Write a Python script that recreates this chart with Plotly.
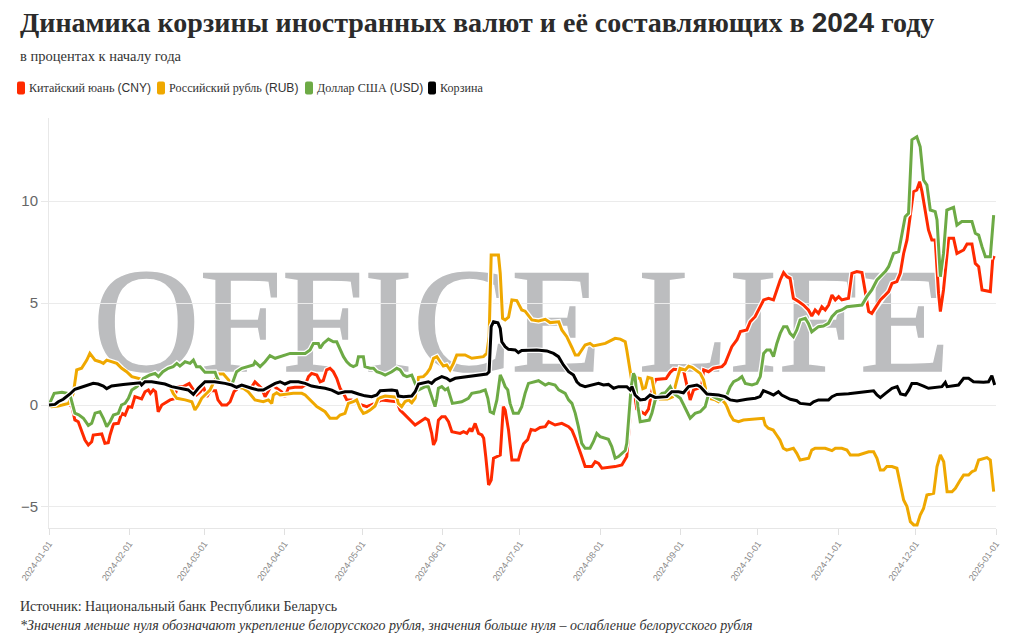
import base64
import pandas as pd
import plotly.graph_objects as go

# ---------------- data (days since 2024-01-01, % change vs start of year) -------------
start_date = "2024-01-01"

cny_days = [0, 2.3, 4.2, 6.8, 8.8, 10, 11.3, 12.6, 13.9, 15.2, 16.5, 17.1, 20.4, 21.6, 22.9, 23.6, 24.9, 26.8,
            28.1, 29.4, 30.7, 32, 33.2, 35.8, 37.1, 38.4, 39.2, 40.3, 41.2, 42.2, 43.6, 46.8, 48.4, 49.6, 51.9,
            54.2, 55.5, 57.1, 58.5, 59.7, 61, 62.4, 64.4, 65.3, 66.8, 68.7, 70, 71.5, 73, 78, 79.6, 80.9, 82.2,
            83.5, 84.8, 86.1, 88, 89.9, 91.2, 92.5, 95, 97.7, 99, 100.3, 101.5, 103.5, 104.8, 106, 107.3, 108.6,
            109.9, 111.2, 112.5, 113.8, 115.1, 117, 119, 120.9, 122.8, 125.5, 127.3, 128.6, 134.4, 135.7, 137,
            138.3, 140.2, 141.5, 143.4, 145.4, 146.6, 147.9, 148.6, 149.5, 150.5, 151.8, 153.1, 154.4, 155.7,
            158.9, 160.2, 161.5, 162.8, 163.4, 164.7, 166, 167.3, 168, 168.8, 169.9, 170.9, 171.8, 174.4, 175,
            175.6, 176.3, 177.6, 178.9, 181.4, 182.5, 183.4, 185, 186.3, 187.9, 189.8, 191.8, 193.1, 195.6,
            198.2, 200.8, 202.1, 203.4, 204.6, 205.9, 207.2, 209.8, 211.1, 212.4, 213.7, 218.8, 221.4, 222.7,
            223.3, 224.2, 225.3, 226.3, 227.2, 228.5, 230.4, 231.7, 233.2, 234.5, 238.5, 240.1, 241.4, 245.2,
            246.5, 247.8, 249.1, 251, 252.3, 253, 254.9, 256.8, 260.1, 261.3, 262.6, 263.9, 265.9, 267.2,
            269.7, 271, 272.9, 274.9, 276.2, 278.1, 280, 281.3, 282.6, 283.9, 285.2, 286.4, 287.7, 289.7,
            291.6, 293.5, 294.8, 296.1, 297.4, 298.7, 300, 301.3, 302.6, 303.9, 305.2, 306.4, 309, 310.3,
            312.2, 314.2, 315.5, 316.8, 318, 320, 321.3, 322.6, 324.5, 325.8, 327.7, 329, 330.3, 331.6,
            332.9, 334.1, 335.4, 336.5, 337.4, 338.6, 339.9, 341.2, 342.5, 343.8, 344.5, 345.7, 347, 347.7,
            349.6, 350.9, 353.5, 354.8, 356.7, 358, 359.3, 360.6, 363.8, 364.7, 365.3]
cny_values = [0, 0, 0.05, 0.08, -0.05, -0.73, -0.82, -1.23, -1.72, -1.96, -1.8, -1.47, -1.42, -1.88, -1.85,
              -1.47, -0.93, -0.9, -0.4, -0.49, -0.08, -0.11, 0.41, 0.3, 0.65, 0.74, 0.57, 0.74, 0.65, -0.33,
              0, 0.25, 0.3, 0.9, 0.9, 1.06, 0.82, 0.5, 0.65, 0.9, 0.4, 0.7, 0.7, 0.25, 0, 0, 0.16, 0.65,
              0.82, 0.82, 1.14, 0.98, 0.82, 0.41, 0.73, 0.98, 0.82, 0.65, 0.41, 0.82, 0.87, 0.87, 0.98, 1.39,
              1.55, 1.47, 1.14, 1.2, 1.72, 1.8, 1.63, 1.31, 0.82, 0.57, 0.25, 0.25, 0.08, 0, -0.08, 0.05,
              0.16, 0.25, 0.16, -0.25, -0.41, -0.57, -0.82, -0.98, -0.82, -0.65, -0.74, -1.39, -1.96, -1.72,
              -0.74, -0.57, -0.57, -0.82, -1.31, -1.39, -1.31, -1.39, -1.14, -1.31, -0.9, -1.39, -1.47, -1.63,
              -2.53, -3.92, -3.68, -2.61, -2.45, -1.14, -0.08, -0.25, -1.23, -2.7, -2.7, -2.21, -1.9, -1.7,
              -1.2, -1.25, -1.1, -1.06, -0.82, -0.98, -0.9, -1.06, -1.23, -1.63, -2.12, -2.53, -3.02, -3.02,
              -2.78, -2.86, -3.1, -3.02, -2.94, -2.7, -2.53, -1.2, 0.6, 0.5, -0.2, -0.3, -0.45, -0.2, 0.8,
              1.25, 1.3, 1.6, 1.75, 1.72, 1.06, 0.25, 0.74, 0.82, 0.98, 1.72, 1.63, 1.8, 1.88, 2.04, 2.45,
              2.86, 3.2, 3.6, 3.68, 4.08, 4.33, 4.82, 5.15, 5.23, 5.15, 5.64, 6.13, 6.49, 6.29, 6.21, 5.23,
              5.07, 4.9, 4.66, 4.36, 4.66, 4.49, 4.82, 4.66, 4.9, 5.39, 5.15, 5.31, 5.15, 5.23, 6.45, 6.54,
              6.49, 5.47, 4.58, 4.49, 4.9, 5.15, 5.31, 5.56, 5.96, 6.05, 6.45, 7.43, 8.09, 9.23, 10.46,
              10.54, 10.95, 10.46, 9.56, 8.58, 8.09, 8.09, 5.47, 4.58, 5.64, 7.1, 8.17, 8.17, 7.43, 7.6,
              7.89, 7.89, 6.94, 6.78, 5.64, 5.56, 7.1, 7.3]

rub_days = [0, 1, 3.6, 7.5, 9.4, 10.7, 12.6, 14.6, 15.8, 17.8, 19.7, 21, 22.3, 24.2, 26.2, 28.1, 30, 32,
            34.5, 37.1, 39.7, 42.3, 44.8, 46.8, 48, 49.4, 52.6, 55.2, 56.4, 57.7, 59, 61, 62.2, 64, 65.5,
            67.4, 68.7, 70, 71.9, 75.1, 77, 79.6, 82.8, 84.8, 86.1, 86.7, 88, 89.3, 94.4, 97.7, 99, 100.9,
            103.5, 106.7, 108.6, 111.2, 112.5, 114.4, 115.7, 117.6, 118.9, 120.2, 121.5, 122.8, 124.1, 126,
            127.3, 129.9, 134.4, 135, 136.3, 137.6, 138.9, 140.2, 141.5, 142.8, 144.7, 146, 147.3, 148.6,
            149.9, 151.2, 152.4, 153.7, 155, 156.3, 157.6, 160.8, 163.4, 167.9, 169.2, 170.1, 170.9, 173.7,
            174.4, 175.3, 176.3, 177.6, 178.9, 180.8, 181.7, 182.7, 184, 185.3, 186.6, 189.2, 191.8, 193.7,
            197, 198.2, 200.1, 202.1, 203.4, 204.6, 205.9, 207.2, 209.1, 210.4, 215, 216.9, 218.8, 220.8,
            222.7, 223.3, 224.2, 225.2, 226.5, 228.5, 229.5, 230.5, 231.5, 233, 234.3, 236, 239, 241, 242.4,
            243.9, 245.9, 247.2, 248.5, 250.4, 251.7, 253, 253.6, 254.3, 254.9, 257.5, 258.8, 260.1, 261.3,
            262, 263.3, 264.5, 266.5, 268.4, 276.1, 276.8, 278, 279.9, 281.2, 282.5, 283.8, 285.1, 287.7,
            289, 290.3, 293.6, 294.8, 296.1, 300, 302.6, 303.9, 306.4, 308.4, 309.7, 312.9, 316.8, 318.7,
            320, 321.3, 322.6, 323.8, 325.8, 327.7, 329, 330.3, 331.6, 332.9, 334.2, 335.5, 336.7, 338,
            339.3, 341.9, 343.2, 344.5, 345.8, 347.1, 349, 350.3, 352.2, 353.5, 355.4, 356.7, 358, 359.3,
            362.5, 363.8, 365.1]
rub_values = [0, -0.08, -0.05, 0.08, 0.57, 1.72, 1.8, 2.2, 2.53, 2.2, 2.12, 2.04, 2.2, 2.12, 2.04, 1.8, 1.63,
              1.39, 1.31, 1.23, 1.14, 1.06, 0.98, 0.9, 0.57, 0.33, 0.25, 0.16, -0.24, 0, 0.33, 0.57, 0.73,
              1.2, 1.52, 1.52, 1.31, 1.14, 0.9, 0.82, 0.65, 0.25, 0.16, 0.25, 0.08, 0.49, 0.6, 0.49, 0.57,
              0.57, 0.49, 0.25, -0.08, -0.33, -0.65, -0.65, -0.49, -0.41, 0.08, 0.16, 0.25, -0.16, -0.41,
              -0.35, -0.25, -0.05, 0.33, 0.44, 0.38, 0.08, -0.08, 0.16, 0.25, 0.11, 0.33, 1.36, 1.39, 1.55,
              1.8, 2.29, 2.37, 2.12, 1.91, 1.96, 1.72, 2.04, 2.45, 2.45, 2.29, 2.37, 2.53, 3.35, 7.35, 7.35,
              6.45, 4.25, 4.17, 4.3, 5.15, 5.12, 4.9, 4.66, 4.6, 4.41, 4.17, 4.12, 4.2, 4.04, 4.08, 3.68,
              3.35, 2.82, 2.45, 2.45, 2.7, 2.94, 3.02, 2.9, 3.02, 3.14, 3.27, 3.23, 3.1, 2.7, 1.88, 1.2, 1.35,
              1.3, 0.8, 0.85, 1.35, 1.3, 0.4, 0.3, 0.3, 0.4, 1.1, 1.8, 1.72, 1.9, 1.85, 1.68, 1.55, 1.23,
              0.9, 0.49, 0.33, 0.25, 0.16, 0.25, 0.08, -0.08, -0.49, -0.74, -0.82, -0.74, -0.65, -0.98,
              -1.14, -1.23, -1.47, -1.72, -2.12, -2.21, -2.12, -2.37, -2.7, -2.61, -2.21, -2.12, -2.12,
              -2.24, -2.12, -2.12, -2.21, -2.45, -2.45, -2.29, -2.29, -2.61, -3.19, -3.19, -3.02, -3.02,
              -3.1, -3.92, -4.66, -4.98, -5.72, -5.88, -5.88, -5.39, -5.07, -4.41, -4.33, -3.02, -2.45,
              -2.78, -4.25, -4.25, -4.08, -3.68, -3.43, -3.43, -3.27, -3.19, -2.7, -2.58, -2.7, -4.25]

usd_days = [0, 2, 5, 8, 10, 11.5, 13.3, 15.2, 16.5, 17.8, 19.7, 21, 22.3, 23.6, 24.9, 26.8, 28, 29.4, 30.7,
            32, 34, 35.2, 36.5, 39, 41, 42.3, 44, 46.1, 48, 49.4, 50.6, 52.6, 54.5, 55.8, 57, 58.4, 60.3,
            64.2, 64.8, 66.1, 70.6, 72.5, 74.5, 79, 79.6, 81.6, 83.5, 85.4, 87.4, 89.3, 93.2, 99, 100.9,
            102.2, 104.1, 104.8, 106, 108, 109.9, 111.2, 112.5, 113.8, 115.1, 116.4, 117.6, 118.9, 119.6,
            121.5, 122.1, 124.1, 125.4, 126.7, 128.6, 129.9, 132.5, 134.4, 135.7, 137, 138.3, 140.2, 141.5,
            142.8, 145.4, 146.6, 147.9, 149.2, 149.9, 150.5, 151.8, 153.1, 154.1, 155, 155.9, 159.5, 162.1,
            163.4, 166.6, 168.6, 169.6, 170.5, 171.8, 173.1, 173.7, 174.4, 175.3, 176.3, 177.3, 178.2,
            179.5, 181.4, 182.7, 184, 185.3, 187.2, 189.2, 191.8, 193.1, 195.6, 197, 199.5, 200.8, 202.1,
            203.4, 204.6, 205.9, 207.2, 209.1, 210.4, 211.7, 213, 216.2, 217.5, 218.8, 220.1, 222.7, 223.3,
            224.2, 225, 225.9, 226.5, 227.6, 228.5, 232, 233, 234.3, 236.9, 238.2, 240.1, 241.4, 244,
            245.3, 246.6, 247.8, 249.7, 251.7, 253.6, 255, 256.8, 259.4, 262, 263.3, 264.6, 266.5, 267.8,
            269.1, 271.7, 273.6, 274.9, 276.2, 277.4, 278.7, 280, 281.3, 282.6, 283.9, 285.2, 286.4, 287.7,
            289, 290.3, 292.3, 293.5, 294.8, 297.4, 299.3, 301.2, 302.6, 304.5, 306.4, 308.4, 314.2, 316.1,
            318, 320, 321.2, 323.2, 324.5, 326.4, 328.4, 329.6, 330.9, 332.2, 333.5, 335.4, 336.7, 338,
            339.3, 340.6, 342.5, 343.2, 344.5, 345.7, 347, 349.6, 350.9, 352.8, 356.7, 358, 359.3, 360.6,
            361.9, 363.8, 365.1]
usd_values = [0, 0.57, 0.62, 0.55, -0.4, -0.48, -0.65, -1.0, -0.9, -0.4, -0.33, -0.65, -1.06, -0.82, -0.49,
              -0.41, 0, 0.08, 0.33, 0.74, 0.9, 1.06, 1.3, 1.47, 1.55, 1.39, 1.63, 1.8, 1.88, 2.04, 1.91,
              2.12, 2.04, 2.2, 1.88, 1.88, 1.6, 1.6, 1.39, 1.06, 0.98, 1.63, 1.8, 1.96, 2.12, 1.88, 2.12,
              2.42, 2.29, 2.37, 2.53, 2.53, 2.7, 3.02, 3.02, 2.78, 3.02, 3.23, 3.1, 3.1, 2.7, 2.37, 2.12,
              1.96, 1.88, 1.96, 2.37, 2.37, 1.88, 1.8, 1.8, 1.63, 1.55, 1.47, 1.63, 1.8, 1.72, 1.47, 1.39,
              1.47, 1.06, 0.74, 0.9, 0.9, 0.41, -0.08, 0.33, 0.82, 0.9, 0.74, 0.82, 0.41, 0.08, 0.16, 0.33,
              0.57, 0.65, 0.74, 0.33, -0.33, -0.41, 0.25, 0.9, 1.47, 1.23, 0.9, 0.74, 0.08, -0.41, -0.41,
              -0.08, 0.57, 1.06, 1.14, 1.19, 0.98, 1.06, 0.98, 0.74, 0.57, 0.25, 0.08, -0.41, -1.06, -1.88,
              -2.12, -2.12, -1.8, -1.39, -1.55, -1.68, -2.04, -2.61, -2.53, -2.23, -1.88, -0.41, 0.9, 1.55,
              1.39, -0.08, -0.82, -0.74, -0.41, 0.25, 0.57, 0.6, 0.9, 0.57, 0.33, 0, -0.3, -0.65, -0.41,
              -0.33, -0.08, 0.57, 0.41, 0.25, 0.49, 0.9, 1.14, 1.26, 1.39, 1.06, 0.98, 1.06, 1.39, 2.53, 2.7,
              2.7, 2.37, 3.02, 3.51, 3.84, 3.84, 3.51, 3.35, 3.68, 4.17, 4.25, 4.0, 3.59, 3.84, 3.87, 4.0,
              4.33, 4.58, 4.66, 4.82, 4.9, 5.31, 5.64, 6.13, 6.29, 6.54, 6.78, 7.43, 7.52, 8.33, 9.23, 9.4,
              13.0, 13.15, 12.66, 11.03, 10.78, 9.56, 9.48, 9.07, 6.29, 7.43, 9.56, 9.69, 8.82, 8.99, 8.99,
              8.42, 8.33, 7.76, 7.27, 7.27, 9.31]

basket_days = [0, 2.3, 3.6, 5.5, 8.1, 10, 11.3, 13.9, 17.1, 19, 21, 22.3, 24.2, 28.7, 32, 35.2, 35.8, 37.1,
               39.7, 42.9, 44.8, 47.4, 50, 53.8, 55.8, 57.7, 60.3, 64, 68, 70.6, 72.5, 74.5, 78.3, 80.9,
               82.8, 84.8, 87.4, 89.3, 91.2, 93.2, 96.4, 99, 101.5, 104.1, 106.7, 109.3, 111.8, 114.4, 117,
               119.6, 122.1, 124.7, 126.7, 128, 132.5, 134.4, 135, 137, 140.2, 141.5, 142.8, 146.6, 147.9,
               149.2, 151.8, 153.7, 155, 157, 162, 167.3, 169.2, 170.1, 170.9, 171.8, 173.5, 174.4, 175,
               176.3, 177.6, 180.2, 181.4, 182.7, 185.3, 188.5, 192.4, 195, 196.9, 198.8, 200.8, 202.7, 204,
               205.3, 207.2, 210.4, 212.4, 214.3, 216.2, 218.2, 220.1, 223.3, 224.6, 225.3, 226.5, 228.5,
               230.4, 232.3, 234.3, 238.8, 240.7, 243.3, 245.2, 247.2, 250.4, 251.7, 253, 254.3, 258.8,
               261.3, 263.3, 265.9, 269.7, 273, 274.8, 276.1, 278.7, 280, 281.9, 283.2, 286.5, 289, 290.3,
               294.2, 295.5, 297.4, 301.3, 302.6, 304.5, 309, 315.5, 318.7, 320, 321.3, 323.3, 325.8, 327.8,
               329.1, 331, 332.3, 333.5, 335.4, 338, 339.9, 345.1, 346.4, 347.1, 351.5, 353.5, 355.4, 357.3,
               361.2, 363.1, 364.4, 365.5]
basket_values = [0, 0.03, 0.16, 0.28, 0.54, 0.77, 0.82, 0.93, 1.06, 1.03, 0.93, 0.8, 0.93, 1.0, 1.06, 1.09,
                 0.98, 1.14, 1.14, 1.06, 1.03, 0.9, 0.82, 0.74, 0.52, 0.82, 1.14, 1.14, 1.06, 0.98, 0.87,
                 0.98, 0.82, 0.73, 0.73, 0.87, 1.06, 1.14, 1.03, 1.14, 1.14, 1.06, 0.93, 0.87, 0.82, 0.73,
                 0.57, 0.65, 0.65, 0.54, 0.45, 0.41, 0.49, 0.7, 0.74, 0.7, 0.44, 0.41, 0.44, 0.65, 1.03,
                 1.14, 1.06, 1.23, 1.39, 1.31, 1.19, 1.31, 1.39, 1.5, 1.52, 1.63, 3.84, 4.08, 4.03, 3.76,
                 3.1, 2.86, 2.73, 2.7, 2.57, 2.67, 2.7, 2.7, 2.65, 2.53, 2.37, 1.96, 1.63, 1.47, 1.14, 0.98,
                 0.9, 0.98, 1.06, 0.98, 1.01, 0.82, 0.9, 0.9, 0.74, 0.9, 0.49, 0.25, 0.28, 0.49, 0.37, 0.41,
                 0.65, 0.65, 0.6, 0.9, 0.98, 0.9, 0.74, 0.54, 0.49, 0.41, 0.25, 0.2, 0.28, 0.33, 0.41, 0.7,
                 0.57, 0.49, 0.65, 0.49, 0.28, 0.21, 0.08, 0.03, 0.16, 0.25, 0.25, 0.41, 0.52, 0.55, 0.65,
                 0.7, 0.49, 0.36, 0.57, 0.82, 0.9, 0.54, 0.49, 0.74, 1.06, 1.06, 0.93, 0.82, 0.9, 1.11, 0.9,
                 0.98, 1.31, 1.31, 1.14, 1.11, 1.14, 1.44, 0.98]

series_names = ["Китайский юань (CNY)", "Российский рубль (RUB)", "Доллар США (USD)", "Корзина"]
legend_labels = ["Китайский юань <span style='font-family:Liberation Sans'>(CNY)</span>",
                 "Российский рубль <span style='font-family:Liberation Sans'>(RUB)</span>",
                 "Доллар США <span style='font-family:Liberation Sans'>(USD)</span>",
                 "Корзина"]
series_colors = ["#FF2A00", "#EFA800", "#6DAA45", "#000000"]
y_tick_values = [-5, 0, 5, 10]

title_text = ("<b>Динамика корзины иностранных валют и её составляющих в "
              "<span style='font-family:Liberation Sans'>2024</span> году</b>")
subtitle_text = "в процентах к началу года"
source_text = "Источник: Национальный банк Республики Беларусь"
note_text = ("<i>*Значения меньше нуля обозначают укрепление белорусского рубля, "
             "значения больше нуля – ослабление белорусского рубля</i>")

# ---------------- layout geometry (pixels) ----------------
FIG_W, FIG_H = 1023, 642
L, R, T, B = 49, 996, 118, 528
PW, PH = R - L, B - T


def px_x(px):
    return (px - L) / PW


def px_y(py):
    return (B - py) / PH


def to_dates(days):
    return pd.Timestamp(start_date) + pd.to_timedelta(pd.Series(days, dtype=float), unit="D")


fig = go.Figure()

all_series = [(cny_days, cny_values), (rub_days, rub_values), (usd_days, usd_values),
              (basket_days, basket_values)]
for (days, vals), name, color in zip(all_series, series_names, series_colors):
    d = to_dates(days)
    # white halo beneath each line
    fig.add_trace(go.Scatter(x=d, y=vals, mode="lines", showlegend=False, hoverinfo="skip",
                             line=dict(color="white", width=5.5)))
    fig.add_trace(go.Scatter(x=d, y=vals, mode="lines", name=name, showlegend=False,
                             line=dict(color=color, width=3)))

# watermark
svg = ('<svg xmlns="http://www.w3.org/2000/svg" width="870" height="130" viewBox="0 0 870 130">'
       '<text x="5" y="116" font-family="Liberation Serif, Times New Roman, serif" font-size="148" '
       'fill="#bcbdbf" stroke="#bcbdbf" stroke-width="1.5" textLength="857" '
       'lengthAdjust="spacingAndGlyphs">OFFICE LIFE</text></svg>')
svg_uri = "data:image/svg+xml;base64," + base64.b64encode(svg.encode("utf-8")).decode("ascii")
fig.add_layout_image(dict(source=svg_uri, xref="paper", yref="paper", x=px_x(88), y=px_y(255),
                          sizex=870 / PW, sizey=130 / PH, xanchor="left", yanchor="top",
                          sizing="stretch", layer="below", opacity=1))

annotations = []
serif = "Liberation Serif"
annotations.append(dict(text=title_text, x=px_x(18), y=px_y(22), xref="paper", yref="paper",
                        xanchor="left", yanchor="middle", showarrow=False,
                        font=dict(family=serif, size=28, color="#2b2b2b")))
annotations.append(dict(text=subtitle_text, x=px_x(18), y=px_y(56), xref="paper", yref="paper",
                        xanchor="left", yanchor="middle", showarrow=False,
                        font=dict(family=serif, size=14.5, color="#333333")))
legend_marker_x = [21, 161, 309, 432]
shapes = []
for lab, color, mx in zip(legend_labels, series_colors, legend_marker_x):
    shapes.append(dict(type="path", xref="paper", yref="paper", xsizemode="pixel", ysizemode="pixel",
                       xanchor=px_x(mx), yanchor=px_y(88),
                       path="M -2,-6.5 L 2,-6.5 Q 4,-6.5 4,-4.5 L 4,4.5 Q 4,6.5 2,6.5 L -2,6.5 "
                            "Q -4,6.5 -4,4.5 L -4,-4.5 Q -4,-6.5 -2,-6.5 Z",
                       fillcolor=color, line=dict(width=0)))
    annotations.append(dict(text=lab, x=px_x(mx + 6), y=px_y(88), xref="paper", yref="paper",
                            xanchor="left", yanchor="middle", showarrow=False,
                            font=dict(family=serif, size=12.1, color="#333333")))
annotations.append(dict(text=source_text, x=px_x(18), y=px_y(606), xref="paper", yref="paper",
                        xanchor="left", yanchor="middle", showarrow=False,
                        font=dict(family=serif, size=14, color="#333333")))
annotations.append(dict(text=note_text, x=px_x(18), y=px_y(625), xref="paper", yref="paper",
                        xanchor="left", yanchor="middle", showarrow=False,
                        font=dict(family=serif, size=14, color="#333333")))

fig.update_layout(
    width=FIG_W, height=FIG_H,
    margin=dict(l=L, r=FIG_W - R, t=T, b=FIG_H - B, pad=0),
    paper_bgcolor="white", plot_bgcolor="white",
    showlegend=False,
    annotations=annotations,
    shapes=shapes,
    xaxis=dict(type="date", range=["2024-01-01", "2025-01-01"], tick0="2024-01-01", dtick="M1",
               tickformat="%Y-%m-%d", tickangle=-55, showgrid=False, zeroline=False,
               showline=True, linecolor="#e6e6e6", linewidth=1,
               ticks="outside", ticklen=6, tickcolor="#e0e0e0",
               tickfont=dict(family="Liberation Sans", size=9, color="#888888")),
    yaxis=dict(range=[-6.03, 14.07], tickvals=y_tick_values, showgrid=True, gridcolor="#ebebeb",
               gridwidth=1, zeroline=False, showline=True, linecolor="#e8e8e8", linewidth=1,
               ticks="outside", ticklen=7, tickcolor="#e8e8e8",
               tickfont=dict(family="Liberation Sans", size=15, color="#666666")),
)

fig.write_html("out.html")
